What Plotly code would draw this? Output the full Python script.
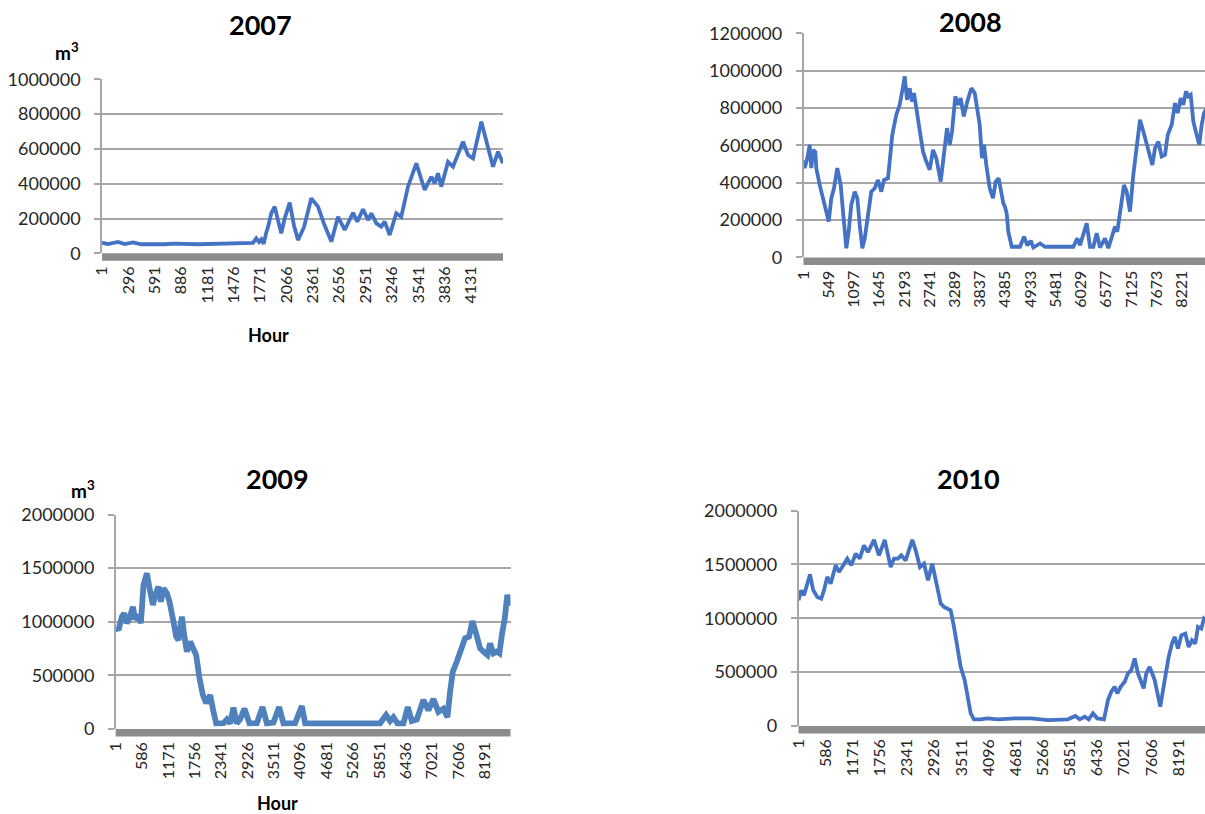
import plotly.graph_objects as go

# ---------------- data: hourly stored volume (m3) ----------------
hours_2007 = [1, 67, 180, 254, 347, 440, 702, 814, 1075, 1336,
              1523, 1635, 1690, 1727, 1758, 1784, 1810, 1839, 1858, 1895,
              1933, 1970, 2007, 2045, 2101, 2149, 2194, 2261, 2343, 2418,
              2485, 2567, 2642, 2717, 2810, 2858, 2922, 2978, 3015, 3071,
              3126, 3164, 3220, 3294, 3350, 3425, 3518, 3612, 3686, 3724,
              3761, 3798, 3873, 3929, 4004, 4041, 4097, 4153, 4246, 4321,
              4377, 4433, 4488]
volume_2007 = [61000, 53000, 65000, 53000, 63000, 52000, 52000, 56000, 52000, 55000,
               54000, 56000, 60000, 86000, 65000, 80000, 55000, 120000, 150000, 230000,
               268000, 190000, 115000, 200000, 291000, 160000, 76000, 150000, 316000, 268000,
               170000, 67000, 210000, 134000, 233000, 182000, 253000, 191000, 230000, 172000,
               153000, 182000, 105000, 230000, 210000, 383000, 517000, 364000, 440000, 402000,
               460000, 383000, 526000, 498000, 603000, 641000, 565000, 546000, 756000, 613000,
               498000, 584000, 517000]

hours_2008 = [1, 26, 83, 135, 170, 207, 257, 279, 352, 424,
              496, 548, 605, 663, 735, 809, 859, 931, 982, 1039,
              1113, 1170, 1222, 1279, 1331, 1402, 1474, 1548, 1619, 1691,
              1750, 1837, 1930, 2017, 2091, 2163, 2200, 2250, 2308, 2358,
              2402, 2452, 2525, 2597, 2669, 2743, 2815, 2886, 2982, 3069,
              3119, 3178, 3228, 3299, 3358, 3416, 3482, 3560, 3647, 3721,
              3777, 3829, 3879, 3923, 3973, 4047, 4118, 4177, 4242, 4300,
              4342, 4379, 4416, 4451, 4525, 4705, 4792, 4864, 4938, 4994,
              5140, 5248, 5864, 5950, 6009, 6154, 6226, 6298, 6372, 6443,
              6552, 6624, 6697, 6769, 6819, 6893, 6965, 7023, 7095, 7167,
              7241, 7313, 7385, 7494, 7581, 7639, 7711, 7785, 7856, 7915,
              8002, 8073, 8132, 8197, 8253, 8312, 8362, 8414, 8471, 8544,
              8600, 8653, 8703, 8761, 8784]
volume_2008 = [520000, 478000, 531000, 603000, 478000, 576000, 565000, 478000, 388000, 317000,
               245000, 192000, 317000, 370000, 478000, 388000, 245000, 49000, 138000, 281000,
               352000, 317000, 174000, 49000, 102000, 227000, 352000, 370000, 415000, 352000,
               415000, 424000, 656000, 764000, 817000, 915000, 969000, 844000, 906000, 835000,
               880000, 799000, 674000, 567000, 513000, 469000, 576000, 531000, 406000, 603000,
               692000, 603000, 674000, 862000, 817000, 853000, 755000, 835000, 906000, 880000,
               799000, 710000, 531000, 603000, 495000, 370000, 317000, 406000, 424000, 330000,
               290000, 270000, 235000, 138000, 57000, 57000, 111000, 65000, 89000, 53000,
               75000, 57000, 57000, 102000, 65000, 183000, 57000, 57000, 129000, 53000,
               102000, 49000, 102000, 165000, 138000, 263000, 388000, 352000, 245000, 442000,
               603000, 737000, 674000, 567000, 495000, 585000, 620000, 540000, 549000, 656000,
               710000, 826000, 773000, 853000, 817000, 889000, 862000, 871000, 728000, 656000,
               603000, 710000, 773000, 799000, 790000]

hours_2009 = [1, 63, 138, 189, 249, 307, 382, 433, 506, 559,
              617, 692, 766, 826, 877, 950, 1003, 1061, 1136, 1194,
              1283, 1342, 1393, 1469, 1520, 1580, 1653, 1726, 1786, 1860,
              1935, 2008, 2097, 2170, 2230, 2392, 2467, 2540, 2613, 2688,
              2762, 2858, 2968, 3132, 3257, 3354, 3500, 3627, 3723, 3982,
              4055, 4131, 4204, 4404, 4907, 5424, 5867, 6000, 6089, 6163,
              6251, 6385, 6482, 6571, 6682, 6828, 6939, 7050, 7161, 7272,
              7361, 7420, 7480, 7568, 7679, 7752, 7841, 7915, 7996, 8085,
              8159, 8248, 8307, 8381, 8455, 8513, 8570, 8630, 8690, 8730,
              8760]
volume_2009 = [950000, 923000, 1047000, 1079000, 986000, 1032000, 1140000, 1020000, 1063000, 986000,
               1343000, 1452000, 1280000, 1156000, 1250000, 1327000, 1187000, 1311000, 1265000, 1187000,
               1000000, 861000, 830000, 1047000, 876000, 721000, 815000, 752000, 690000, 473000,
               317000, 240000, 317000, 161000, 53000, 55000, 90000, 53000, 199000, 53000,
               90000, 190000, 53000, 55000, 205000, 53000, 60000, 205000, 53000, 55000,
               120000, 215000, 53000, 53000, 60000, 53000, 53000, 130000, 75000, 110000,
               53000, 53000, 205000, 75000, 90000, 270000, 175000, 280000, 160000, 190000,
               110000, 348000, 534000, 627000, 752000, 846000, 861000, 1007000, 892000, 752000,
               721000, 690000, 799000, 705000, 721000, 705000, 880000, 1020000, 1250000, 1180000,
               1150000]

hours_2010 = [1, 60, 119, 177, 248, 319, 405, 491, 550, 620,
              694, 802, 873, 966, 1052, 1138, 1232, 1319, 1411, 1498,
              1627, 1735, 1858, 1987, 2058, 2144, 2215, 2310, 2381, 2452,
              2526, 2618, 2705, 2791, 2883, 2978, 3065, 3136, 3222, 3280,
              3351, 3422, 3495, 3582, 3638, 3711, 3782, 3926, 4069, 4299,
              4659, 5017, 5377, 5808, 5965, 6060, 6168, 6254, 6346, 6439,
              6584, 6670, 6741, 6814, 6870, 6943, 7030, 7101, 7172, 7245,
              7316, 7439, 7495, 7568, 7676, 7797, 7892, 7978, 8049, 8107,
              8178, 8250, 8336, 8409, 8480, 8552, 8609, 8681, 8739, 8760]
volume_2010 = [1167000, 1259000, 1213000, 1290000, 1407000, 1259000, 1197000, 1182000, 1259000, 1383000,
               1321000, 1491000, 1429000, 1491000, 1553000, 1491000, 1599000, 1553000, 1676000, 1614000,
               1728000, 1584000, 1728000, 1475000, 1553000, 1553000, 1584000, 1537000, 1630000, 1728000,
               1630000, 1475000, 1506000, 1352000, 1506000, 1321000, 1136000, 1105000, 1090000, 1074000,
               920000, 734000, 549000, 426000, 303000, 118000, 62000, 62000, 71000, 62000,
               71000, 71000, 55000, 62000, 93000, 62000, 86000, 62000, 117000, 71000,
               62000, 241000, 318000, 364000, 303000, 364000, 410000, 488000, 518000, 627000,
               488000, 349000, 488000, 549000, 426000, 179000, 426000, 642000, 765000, 827000,
               719000, 842000, 858000, 734000, 796000, 765000, 920000, 904000, 997000, 990000]

# category-axis labels (every 295 / 548 / 585 hours)
xticks_2007 = [1, 296, 591, 886, 1181, 1476, 1771, 2066, 2361, 2656, 2951, 3246, 3541, 3836, 4131]
xticks_2008 = [1, 549, 1097, 1645, 2193, 2741, 3289, 3837, 4385, 4933, 5481, 6029, 6577, 7125, 7673, 8221]
xticks_2009 = [1, 586, 1171, 1756, 2341, 2926, 3511, 4096, 4681, 5266, 5851, 6436, 7021, 7606, 8191]
xticks_2010 = [1, 586, 1171, 1756, 2341, 2926, 3511, 4096, 4681, 5266, 5851, 6436, 7021, 7606, 8191]

yticks_2007 = [0, 200000, 400000, 600000, 800000, 1000000]
yticks_2008 = [0, 200000, 400000, 600000, 800000, 1000000, 1200000]
yticks_2009 = [0, 500000, 1000000, 1500000, 2000000]
yticks_2010 = [0, 500000, 1000000, 1500000, 2000000]

# ---------------- layout ----------------
W, H = 1205, 814
FONT = "Lato"
GRID = "#a6a6a6"
BAR = "#8c8c8c"


def fx(px):
    return px / W


def fy(py):
    return 1 - py / H


# plot boxes in pixels: left, right, zero-line y, top-line y
panels = [
    dict(name="2007", hours=hours_2007, vals=volume_2007, xt=xticks_2007, yt=yticks_2007,
         box=(102, 503, 253.3, 79.3), xend=4488.5, color="#4472c4", lw=3.8,
         title=(260, 25), unit=(67, 52), hour=(268, 335)),
    dict(name="2008", hours=hours_2008, vals=volume_2008, xt=xticks_2008, yt=yticks_2008,
         box=(803.5, 1205, 257.4, 33.3), xend=8725, color="#4472c4", lw=3.8,
         title=(970, 21), unit=None, hour=None),
    dict(name="2009", hours=hours_2009, vals=volume_2009, xt=xticks_2009, yt=yticks_2009,
         box=(115.7, 510.5, 729, 514.5), xend=8760.5, color="#4f81bd", lw=5.8,
         title=(277, 478), unit=(83, 489), hour=(277, 803)),
    dict(name="2010", hours=hours_2010, vals=volume_2010, xt=xticks_2010, yt=yticks_2010,
         box=(798.5, 1205, 726, 510.5), xend=8760.5, color="#4472c4", lw=3.8,
         title=(968, 479), unit=None, hour=None),
]

fig = go.Figure()
annotations = []
shapes = []
layout_axes = {}

for i, p in enumerate(panels, start=1):
    xa = "x" if i == 1 else f"x{i}"
    ya = "y" if i == 1 else f"y{i}"
    left, right, zero_y, top_y = p["box"]
    fig.add_trace(go.Scatter(
        x=p["hours"], y=p["vals"], mode="lines",
        line=dict(color=p["color"], width=p["lw"]),
        xaxis=xa, yaxis=ya, showlegend=False, hoverinfo="skip",
    ))
    layout_axes[f"xaxis{'' if i == 1 else i}"] = dict(
        domain=[fx(left), fx(right)], anchor=ya, automargin=False,
        range=[0.5, p["xend"]],
        tickmode="array", tickvals=p["xt"], ticktext=[str(v) for v in p["xt"]],
        tickangle=-90, ticks="", showgrid=False, zeroline=False, showline=False,
        tickfont=dict(family=FONT, size=16, color="#262626"),
        ticklabelstandoff=9, fixedrange=True,
    )
    layout_axes[f"yaxis{'' if i == 1 else i}"] = dict(
        domain=[fy(zero_y), fy(top_y)], anchor=xa, automargin=False,
        range=[0, p["yt"][-1]],
        tickmode="array", tickvals=p["yt"], ticktext=[str(v) for v in p["yt"]],
        ticks="outside", ticklen=6, tickwidth=1.5, tickcolor=GRID,
        showgrid=True, gridcolor=GRID, gridwidth=1.5,
        showline=True, linecolor=GRID, linewidth=1.5, zeroline=False,
        tickfont=dict(family=FONT, size=18, color="#262626"),
        ticklabelstandoff=10, fixedrange=True,
    )
    # thick grey category-axis bar under the zero line
    shapes.append(dict(type="rect", xref="paper", yref="paper",
                       x0=fx(left), x1=fx(right), y0=fy(zero_y + 7.5), y1=fy(zero_y),
                       fillcolor=BAR, line=dict(width=0), layer="above"))
    annotations.append(dict(text=f"<b>{p['name']}</b>", xref="paper", yref="paper",
                            x=fx(p["title"][0]), y=fy(p["title"][1]),
                            xanchor="center", yanchor="middle", showarrow=False,
                            font=dict(family=FONT, size=27, color="#000000")))
    if p["unit"]:
        annotations.append(dict(text="<b>m<sup>3</sup></b>", xref="paper", yref="paper",
                                x=fx(p["unit"][0]), y=fy(p["unit"][1]),
                                xanchor="center", yanchor="middle", showarrow=False,
                                font=dict(family=FONT, size=19, color="#000000")))
    if p["hour"]:
        annotations.append(dict(text="<b>Hour</b>", xref="paper", yref="paper",
                                x=fx(p["hour"][0]), y=fy(p["hour"][1]),
                                xanchor="center", yanchor="middle", showarrow=False,
                                font=dict(family=FONT, size=18, color="#000000")))

fig.update_layout(
    width=W, height=H, margin=dict(l=0, r=0, t=0, b=0, autoexpand=False),
    paper_bgcolor="white", plot_bgcolor="white",
    annotations=annotations, shapes=shapes, **layout_axes,
)

fig.write_html("out.html")
